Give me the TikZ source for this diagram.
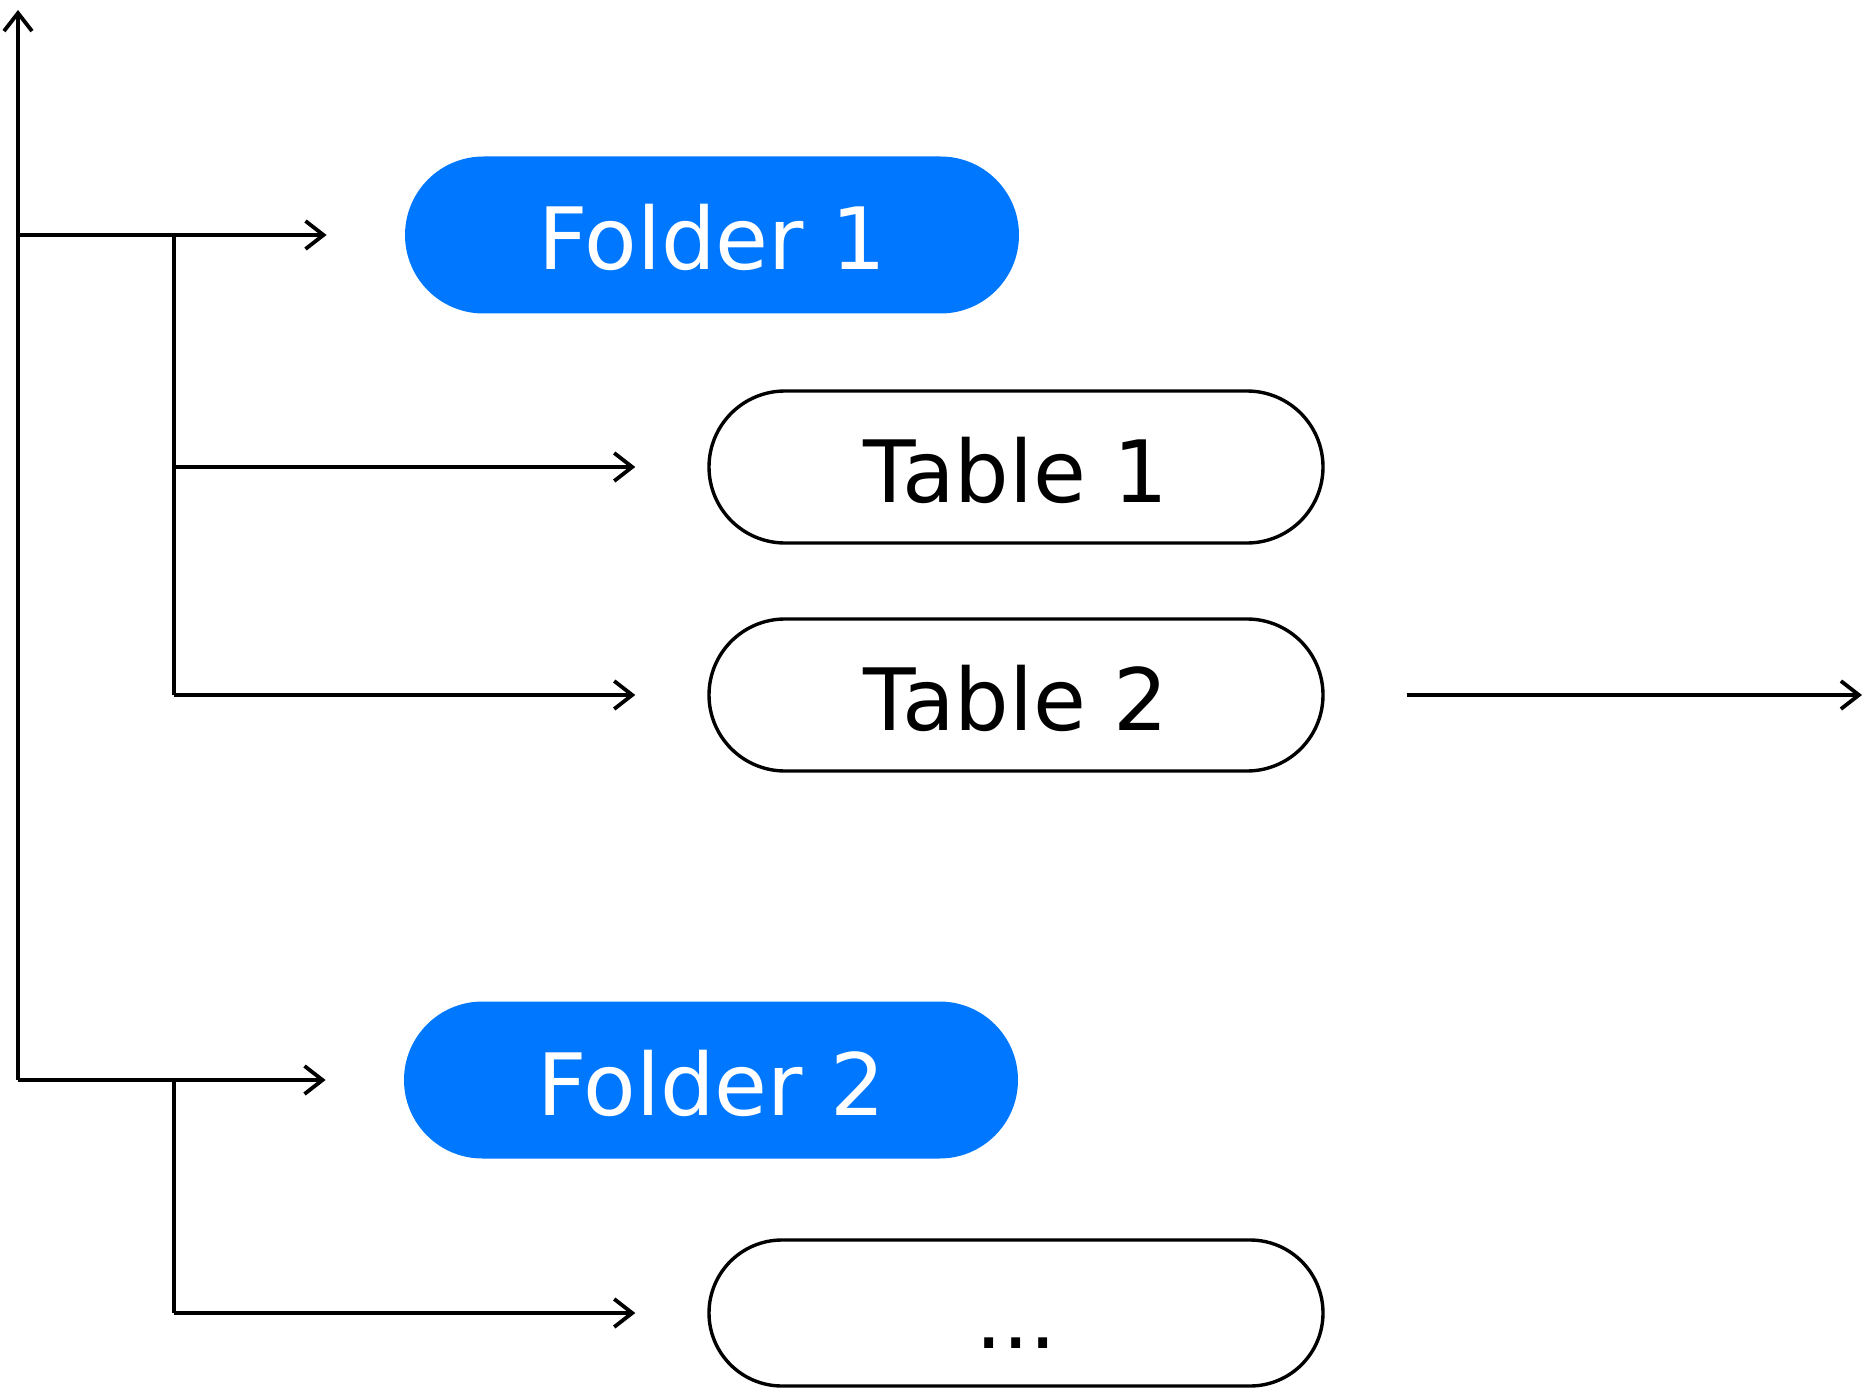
\documentclass[tikz,border=0pt]{standalone}
\usepackage{fontspec}
\setmainfont{DejaVu Sans}
\usetikzlibrary{arrows.meta,shapes.misc}
\definecolor{folderblue}{RGB}{0,119,255}
\tikzset{
  box/.style={rounded rectangle, minimum width=307pt, minimum height=76pt,
    text height=35pt, text depth=0pt, inner sep=0pt, font=\fontsize{43}{50}\selectfont},
  folderbox/.style={box, fill=folderblue, text=white, minimum height=78.5pt},
  tablebox/.style={box, draw, line width=1.7pt},
  link/.style={line width=1.9pt, -{Straight Barb[length=9pt,width=14pt,line width=1.9pt]}},
  plain/.style={line width=1.9pt}
}
\begin{document}
\begin{tikzpicture}[x=0.5pt,y=-0.5pt]
    \useasboundingbox (0,0) rectangle (1869,1391);

    \node[folderbox] (f1) at (712,235) {Folder 1};
    \node[tablebox] (t1) at (1016,467) {Table 1};
    \node[tablebox] (t2) at (1016,695) {Table 2};
    \node[folderbox] (f2) at (711,1080) {Folder 2};
    \node[tablebox, minimum height=73pt] (d1) at (1016,1313) {...};

    \coordinate (top) at (18,10);
    \coordinate (j1) at (18,235);
    \coordinate (j2) at (18,1080);
    \coordinate (s1) at (174,235);
    \coordinate (s2) at (174,1080);
    \coordinate (out) at (1862,695);

    % trunk
    \draw[link] (j2) -- (top);
    \draw[link] (j1) -- ([xshift=-39pt]f1.west);
    \draw[link] (j2) -- ([xshift=-39pt]f2.west);

    % tables of folder 1
    \draw[plain] (s1) -- (s1 |- t2);
    \draw[link] (s1 |- t1) -- ([xshift=-36pt]t1.west);
    \draw[link] (s1 |- t2) -- ([xshift=-36pt]t2.west);
    \draw[link] ([xshift=41pt]t2.east) -- (out);

    % tables of folder 2
    \draw[plain] (s2) -- (s2 |- d1);
    \draw[link] (s2 |- d1) -- ([xshift=-36pt]d1.west);
\end{tikzpicture}
\end{document}
